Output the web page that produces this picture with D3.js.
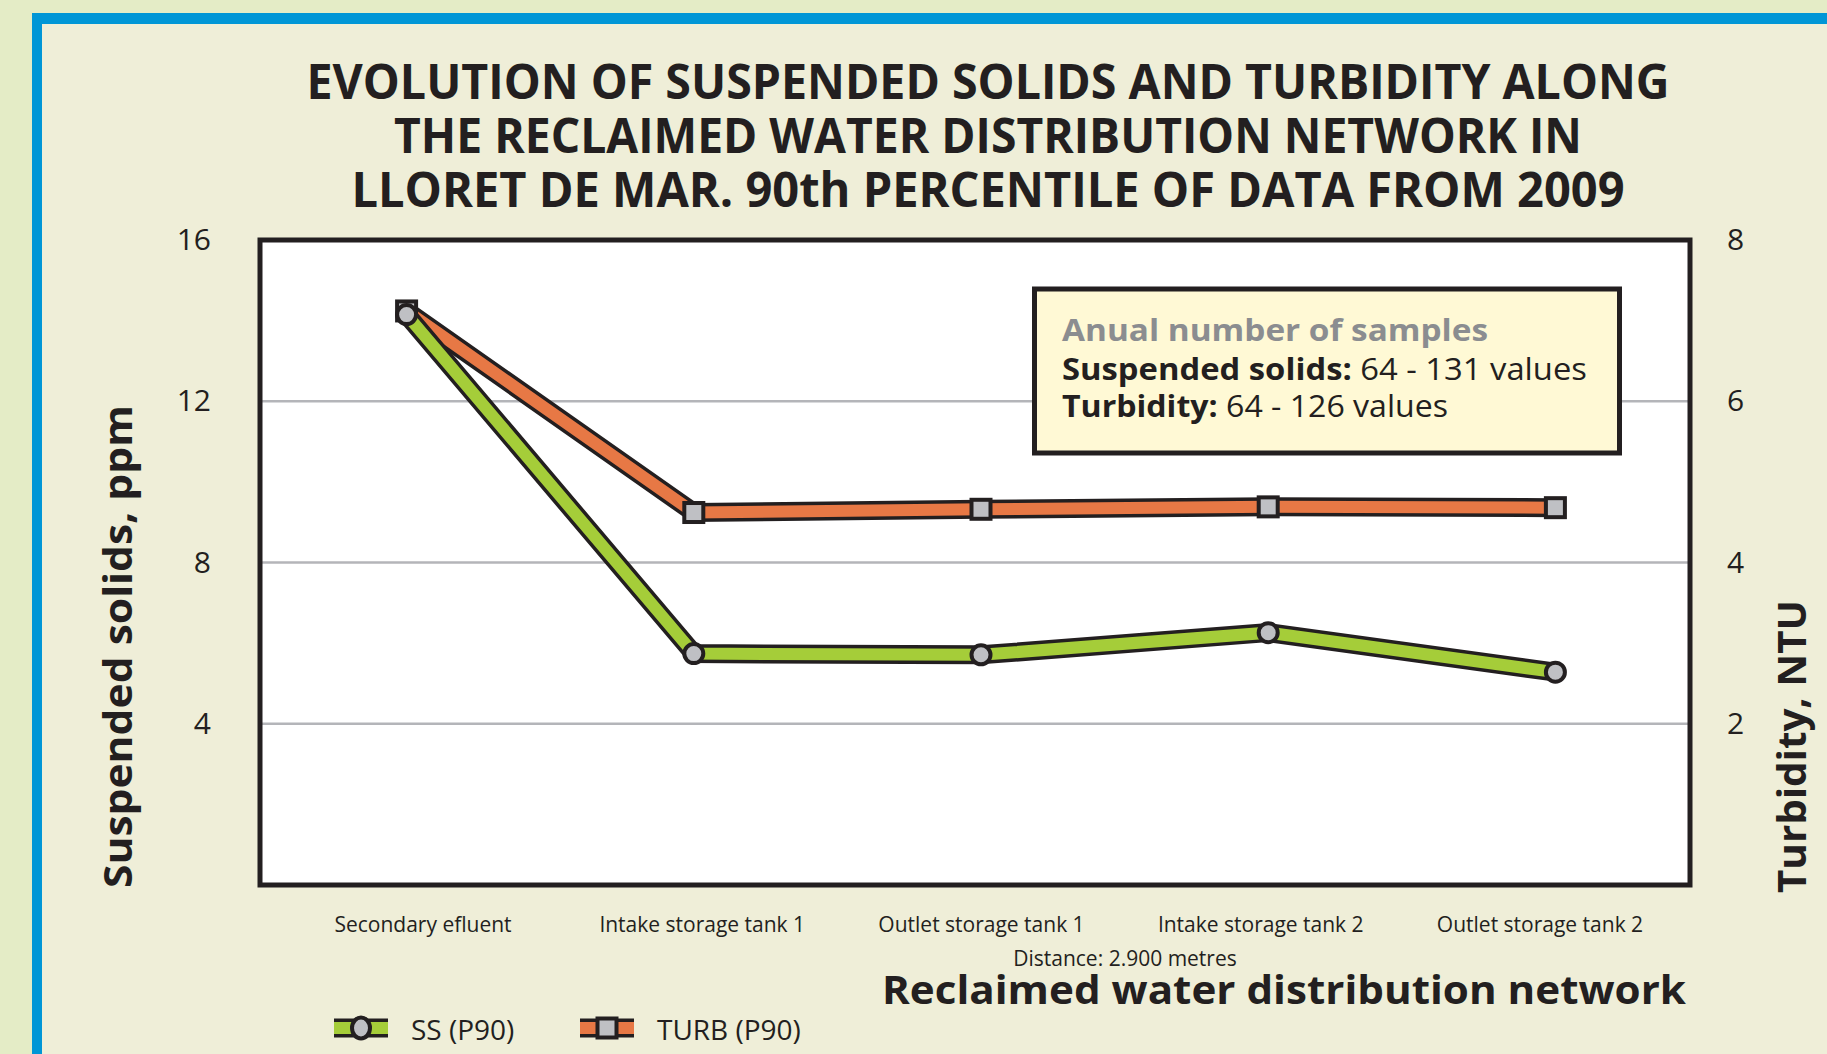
<!DOCTYPE html>
<html>
<head>
<meta charset="utf-8">
<script src="https://cdn.jsdelivr.net/npm/d3@7"></script>
<style>
  html, body { margin: 0; padding: 0; background: #e4ecc6; }
  svg { display: block; font-family: "Open Sans", sans-serif; }
</style>
</head>
<body>
<script>
// data
var categories = ["Secondary efluent", "Intake storage tank 1", "Outlet storage tank 1", "Intake storage tank 2", "Outlet storage tank 2"];
var ssValues = [14.15, 5.74, 5.71, 6.26, 5.28];     // ppm, left axis
var turbValues = [7.12, 4.62, 4.66, 4.69, 4.68];    // NTU, right axis
var ssTicks = [4, 8, 12, 16];
var turbTicks = [2, 4, 6, 8];
var titleLines = ["EVOLUTION OF SUSPENDED SOLIDS AND TURBIDITY ALONG",
                  "THE RECLAIMED WATER DISTRIBUTION NETWORK IN",
                  "LLORET DE MAR. 90th PERCENTILE OF DATA FROM 2009"];
var legendNames = ["SS (P90)", "TURB (P90)"];

var W = 1827, H = 1054;
var ink = "#231f20", green = "#a5cd39", orange = "#e77845", markGrey = "#bfc0c4";

var svg = d3.select("body").append("svg")
    .attr("width", W)
    .attr("height", H);

function fit(sel, w) {
  sel.attr("textLength", w).attr("lengthAdjust", "spacingAndGlyphs");
}

// frame
svg.append("rect").attr("x", 0).attr("y", 0).attr("width", W).attr("height", H).attr("fill", "#e4ecc6");
svg.append("rect").attr("x", 32).attr("y", 13).attr("width", W).attr("height", H).attr("fill", "#0096d6");
svg.append("rect").attr("x", 42).attr("y", 24).attr("width", W).attr("height", H).attr("fill", "#efeed8");

// title
var titleW = [1363, 1188, 1273];
svg.selectAll("text.title")
   .data(titleLines)
   .enter()
   .append("text")
   .attr("class", "title")
   .attr("x", 988)
   .attr("y", function(d, i) { return 99 + i * 54; })
   .attr("text-anchor", "middle")
   .attr("font-size", 48)
   .attr("font-weight", 700)
   .attr("fill", ink)
   .text(function(d) { return d; })
   .each(function(d, i) { fit(d3.select(this), titleW[i]); });

// scales
var pLeft = 260, pRight = 1690, pTop = 240, pBottom = 885;
var x = d3.scalePoint().domain(categories).range([263, 1699]).padding(0.5);
var ySS = d3.scaleLinear().domain([0, 16]).range([pBottom, pTop]);
var yTurb = d3.scaleLinear().domain([0, 8]).range([pBottom, pTop]);
var xLabel = d3.scalePoint().domain(categories).range([423, 1540]);

// plot box
svg.append("rect")
   .attr("x", pLeft).attr("y", pTop)
   .attr("width", pRight - pLeft).attr("height", pBottom - pTop)
   .attr("fill", "#fff");

svg.selectAll("line.grid")
   .data(ssTicks.filter(function(t) { return t < 16; }))
   .enter()
   .append("line")
   .attr("x1", pLeft).attr("x2", pRight)
   .attr("y1", function(d) { return ySS(d); })
   .attr("y2", function(d) { return ySS(d); })
   .attr("stroke", "#b4b5b9")
   .attr("stroke-width", 2.5);

// axes (labels only)
var axL = svg.append("g").attr("transform", "translate(211,0)")
   .call(d3.axisLeft(ySS).tickValues(ssTicks).tickSize(0).tickPadding(0));
var axR = svg.append("g").attr("transform", "translate(1727,0)")
   .call(d3.axisRight(yTurb).tickValues(turbTicks).tickSize(0).tickPadding(0));
[axL, axR].forEach(function(a) {
  a.select(".domain").remove();
  a.selectAll("text").attr("font-family", "Open Sans").attr("font-size", 30).attr("fill", ink);
});

// info box
svg.append("rect")
   .attr("x", 1034.5).attr("y", 289)
   .attr("width", 585).attr("height", 164)
   .attr("fill", "#fff9d5")
   .attr("stroke", ink)
   .attr("stroke-width", 5);

svg.append("text").attr("x", 1062).attr("y", 341)
   .attr("font-size", 31).attr("font-weight", 700).attr("fill", "#8b8d90")
   .text("Anual number of samples")
   .call(fit, 426);

var note1 = svg.append("text").attr("x", 1062).attr("y", 380).attr("font-size", 31).attr("fill", ink);
note1.append("tspan").attr("font-weight", 700).text("Suspended solids:");
note1.append("tspan").text(" 64 - 131 values");
fit(note1, 525);

var note2 = svg.append("text").attr("x", 1062).attr("y", 417).attr("font-size", 31).attr("fill", ink);
note2.append("tspan").attr("font-weight", 700).text("Turbidity:");
note2.append("tspan").text(" 64 - 126 values");
fit(note2, 386);

// series
function drawSeries(values, yScale, colour, marker) {
  var line = d3.line()
      .x(function(d, i) { return x(categories[i]); })
      .y(function(d) { return yScale(d); });
  svg.append("path").datum(values).attr("d", line)
     .attr("fill", "none").attr("stroke", ink).attr("stroke-width", 19)
     .attr("stroke-linejoin", "miter").attr("stroke-linecap", "butt");
  svg.append("path").datum(values).attr("d", line)
     .attr("fill", "none").attr("stroke", colour).attr("stroke-width", 12)
     .attr("stroke-linejoin", "miter").attr("stroke-linecap", "butt");
  if (marker == "square") {
    svg.selectAll(null).data(values).enter().append("rect")
       .attr("x", function(d, i) { return x(categories[i]) - 9.5; })
       .attr("y", function(d) { return yScale(d) - 9.5; })
       .attr("width", 19).attr("height", 19)
       .attr("fill", markGrey).attr("stroke", ink).attr("stroke-width", 4);
  } else {
    svg.selectAll(null).data(values).enter().append("circle")
       .attr("cx", function(d, i) { return x(categories[i]); })
       .attr("cy", function(d) { return yScale(d); })
       .attr("r", 9.5)
       .attr("fill", markGrey).attr("stroke", ink).attr("stroke-width", 4);
  }
}
drawSeries(turbValues, yTurb, orange, "square");
drawSeries(ssValues, ySS, green, "circle");

// box border on top
svg.append("rect")
   .attr("x", pLeft).attr("y", pTop)
   .attr("width", pRight - pLeft).attr("height", pBottom - pTop)
   .attr("fill", "none").attr("stroke", ink).attr("stroke-width", 5);

// category labels
svg.selectAll("text.cat")
   .data(categories)
   .enter()
   .append("text")
   .attr("class", "cat")
   .attr("x", function(d) { return xLabel(d); })
   .attr("y", 932)
   .attr("text-anchor", "middle")
   .attr("font-size", 21)
   .attr("fill", ink)
   .text(function(d) { return d; });

svg.append("text").attr("x", 1125).attr("y", 966)
   .attr("text-anchor", "middle").attr("font-size", 21).attr("fill", ink)
   .text("Distance: 2.900 metres");

svg.append("text").attr("x", 1686).attr("y", 1004)
   .attr("text-anchor", "end").attr("font-size", 40).attr("font-weight", 700).attr("fill", ink)
   .text("Reclaimed water distribution network")
   .call(fit, 804);

// axis titles
svg.append("text")
   .attr("transform", "translate(132,888) rotate(-90)")
   .attr("font-size", 40).attr("font-weight", 700).attr("fill", ink)
   .text("Suspended solids, ppm")
   .call(fit, 483);

svg.append("text")
   .attr("transform", "translate(1806,893) rotate(-90)")
   .attr("font-size", 40).attr("font-weight", 700).attr("fill", ink)
   .text("Turbidity, NTU")
   .call(fit, 293);

// legend
var legX = [334, 580];
var legColours = [green, orange];
legendNames.forEach(function(name, i) {
  var g = svg.append("g").attr("transform", "translate(" + legX[i] + ",1028)");
  g.append("line").attr("x1", 0).attr("x2", 54).attr("stroke", ink).attr("stroke-width", 19);
  g.append("line").attr("x1", 0).attr("x2", 54).attr("stroke", legColours[i]).attr("stroke-width", 12);
  if (i == 0) {
    g.append("ellipse").attr("cx", 27).attr("rx", 9).attr("ry", 10.5)
     .attr("fill", markGrey).attr("stroke", ink).attr("stroke-width", 4);
  } else {
    g.append("rect").attr("x", 17.5).attr("y", -9.5).attr("width", 19).attr("height", 19)
     .attr("fill", markGrey).attr("stroke", ink).attr("stroke-width", 4);
  }
  g.append("text").attr("x", 77).attr("y", 12)
   .attr("font-size", 28).attr("fill", ink)
   .text(name);
});
</script>
</body>
</html>
